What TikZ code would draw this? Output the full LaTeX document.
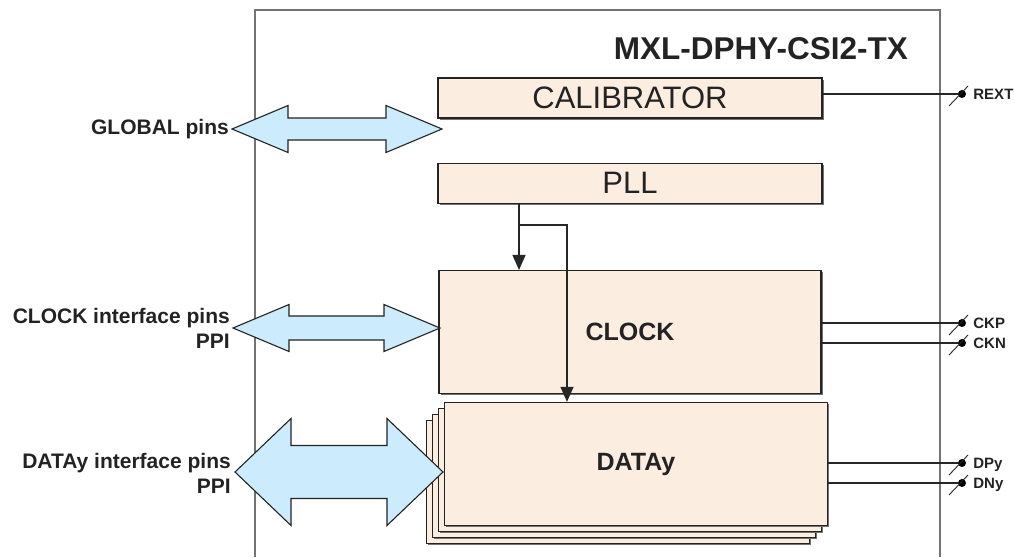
\documentclass[tikz,border=0pt]{standalone}
\usepackage{fontspec}
\setmainfont{Liberation Sans}
\usetikzlibrary{positioning,arrows.meta,shadows}

\definecolor{blockfill}{RGB}{252,237,225}
\definecolor{pinblue}{RGB}{204,235,252}
\definecolor{framegray}{RGB}{115,115,115}
\definecolor{inkgray}{RGB}{35,35,35}

\begin{document}
\begin{tikzpicture}[
  x=1pt, y=-1pt,
  node distance=10pt and 10pt,
  every node/.style={text=inkgray},
  block/.style={draw=inkgray, line width=1.3pt, fill=blockfill, inner sep=0pt, minimum width=384pt, minimum height=40pt, font=\fontsize{31}{36}\selectfont, drop shadow={shadow xshift=1.5pt, shadow yshift=-1.8pt, fill=black!55, opacity=1}},
  core/.style={block, minimum width=383pt, minimum height=123pt, font=\fontsize{25}{30}\selectfont\bfseries},
  side/.style={align=right, anchor=east, inner sep=0pt, font=\fontsize{21}{25}\selectfont\bfseries},
  fat/.style={draw=inkgray, line width=1.1pt, fill=pinblue, line join=miter},
  sig/.style={draw=black!85, line width=1.3pt, -{Triangle[length=15pt, width=13pt]}},
  wire/.style={draw=black!85, line width=1.3pt},
  pad/.style={circle, fill=black, inner sep=0pt, minimum size=8pt},
  padtext/.style={inner sep=0pt, text height=10.7pt, text depth=0pt, font=\fontsize{15}{18}\selectfont\bfseries}
]
\useasboundingbox (0,0) rectangle (1014,557);

% outer frame, open at the bottom
\draw[framegray, line width=2pt] (255,557) |- (940,10) -- (940,557);
\node[anchor=base east, inner sep=0pt, font=\fontsize{31.5}{36}\selectfont\bfseries] (title) at (908,59) {MXL-DPHY-CSI2-TX};

\node[block] (cal) at (630,98) {CALIBRATOR};
\node[block] (pll) [below=44pt of cal] {PLL};
\node[core, minimum width=382pt] (clk) [below=66pt of pll] {CLOCK};

% DATAy lanes (stacked)
\foreach \k in {3,2,1}
  \node[core] (data\k) at (636-6*\k, 464+6*\k) {};
\node[core] (data) at (636,464) {DATAy};

% clock from the PLL
\coordinate (split) at (519,225);
\coordinate (turn) at (567,225);
\draw[wire] (pll.south -| split) -- (split);
\draw[sig] (split) -- (clk.north -| split);
\draw[sig] (split) -- (turn) -- (data.north -| turn);

% pins on the right
\foreach \src/\y/\lbl in {cal/94/REXT, clk/323/CKP, clk/343/CKN, data/463/DPy, data/483/DNy} {
  \node[pad] (p\lbl) at (962,\y) {};
  \node[padtext, right=7pt of p\lbl] (t\lbl) {\lbl};
  \draw[wire] (\src.east |- p\lbl) -- (p\lbl);
  \draw[wire, line width=0.9pt] ([shift={(-13,12)}]p\lbl.center) -- ([shift={(6,-8)}]p\lbl.center);
}

% interface pins on the left
\node[side] (glob) at (229,129) {GLOBAL pins};
\node[side] (clkpins) at (230,328) {CLOCK interface pins\\PPI};
\node[side] (datpins) at (231,473) {DATAy interface pins\\PPI};

\foreach \xa/\xb/\yc/\h/\s in {232/442/129/23.5/11, 233/440/328/23.5/12, 235/443/472/53.5/26.5}
  \draw[fat] (\xa,\yc) -- (\xa+56,\yc-\h) -- (\xa+56,\yc-\s) -- (\xb-56,\yc-\s) -- (\xb-56,\yc-\h)
    -- (\xb,\yc) -- (\xb-56,\yc+\h) -- (\xb-56,\yc+\s) -- (\xa+56,\yc+\s) -- (\xa+56,\yc+\h) -- cycle;
\end{tikzpicture}
\end{document}
